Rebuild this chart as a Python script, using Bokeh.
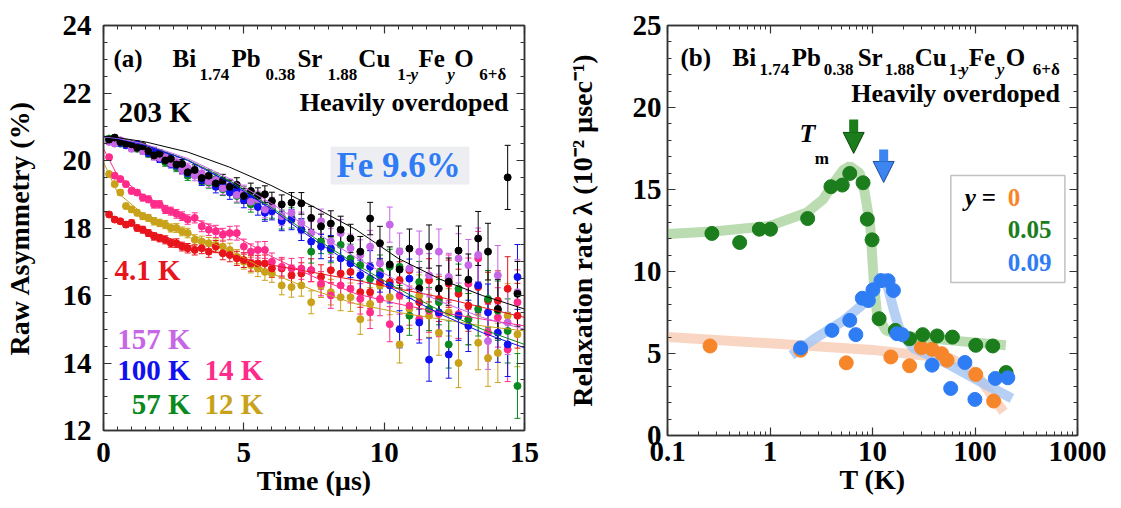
from bokeh.plotting import figure
from bokeh.models import (Range1d, LinearAxis, LogAxis, SingleIntervalTicker, FixedTicker,
                          Whisker, TeeHead, ColumnDataSource, Label, BoxAnnotation, Arrow,
                          NormalHead, CustomJSTickFormatter)
from bokeh.layouts import row
from bokeh.embed import file_html
from bokeh.resources import INLINE

FONT = "Liberation Serif"

# ---------------- Panel (a): raw asymmetry vs time ----------------
time_us = [0.2, 0.4, 0.6, 0.8, 1.0, 1.2, 1.4, 1.6, 1.8, 2.0, 2.2, 2.4, 2.6, 2.8, 3.0,
           3.25, 3.5, 3.75, 4.0, 4.25, 4.5, 4.75, 5.0, 5.25, 5.5, 5.75, 6.0,
           6.35, 6.7, 7.05, 7.4, 7.75, 8.1, 8.45, 8.8, 9.15, 9.5, 9.85, 10.2, 10.55,
           10.9, 11.25, 11.6, 11.95, 12.3, 12.65, 13.0, 13.35, 13.7, 14.05, 14.4, 14.75]
err_half = [0.07, 0.07, 0.08, 0.08, 0.09, 0.09, 0.10, 0.10, 0.11, 0.11,
            0.12, 0.12, 0.13, 0.13, 0.14, 0.15, 0.16, 0.17, 0.18, 0.19,
            0.20, 0.21, 0.22, 0.23, 0.24, 0.25, 0.26, 0.28, 0.30, 0.32,
            0.34, 0.36, 0.38, 0.40, 0.42, 0.45, 0.48, 0.50, 0.52, 0.55,
            0.58, 0.61, 0.64, 0.67, 0.70, 0.73, 0.76, 0.80, 0.84, 0.88, 0.95, 0.96]
asym_203K = [20.62, 20.68, 20.55, 20.50, 20.48, 20.38, 20.42, 20.28, 20.15, 20.20,
             20.00, 20.05, 19.88, 19.90, 19.65, 19.72, 19.48, 19.55, 19.32, 19.40,
             19.22, 19.28, 18.95, 19.10, 18.95, 19.00, 18.80, 18.70, 18.75, 18.73,
             18.30, 18.05, 18.13, 17.95, 17.69, 17.30, 18.28, 17.55, 16.92, 16.77,
             17.39, 16.21, 17.45, 16.21, 16.41, 17.33, 16.47, 17.69, 17.30, 15.60,
             19.50, 16.05]
asym_157K = [20.55, 20.50, 20.60, 20.50, 20.35, 20.42, 20.28, 20.30, 20.12, 20.08,
             20.10, 19.92, 19.95, 19.72, 19.78, 19.55, 19.62, 19.38, 19.42, 19.18,
             19.25, 18.98, 19.05, 18.78, 18.85, 18.55, 18.65, 18.35, 18.45, 18.15,
             17.85, 18.20, 17.60, 17.85, 17.40, 17.20, 17.45, 16.95, 18.10, 17.30,
             16.80, 17.30, 16.60, 17.30, 16.55, 17.10, 16.90, 17.20, 14.65, 16.60,
             15.20, 16.10]
asym_100K = [20.60, 20.65, 20.52, 20.45, 20.40, 20.48, 20.32, 20.22, 20.28, 20.05,
             20.12, 19.90, 19.85, 19.75, 19.62, 19.65, 19.42, 19.45, 19.22, 19.30,
             19.05, 19.12, 18.82, 18.90, 18.62, 18.45, 18.50, 18.20, 18.25, 17.95,
             17.60, 17.45, 17.40, 17.10, 16.95, 16.60, 16.85, 16.60, 16.30, 15.00,
             16.50, 15.20, 14.10, 15.50, 14.25, 15.40, 15.10, 16.30, 15.50, 14.90,
             14.55, 16.55]
asym_57K = [20.65, 20.58, 20.50, 20.52, 20.38, 20.35, 20.40, 20.20, 20.15, 20.20,
            19.95, 20.00, 19.80, 19.85, 19.55, 19.65, 19.45, 19.35, 19.45, 19.15,
            19.20, 18.95, 19.00, 18.70, 18.80, 18.50, 18.55, 18.25, 18.30, 17.95,
            17.30, 17.60, 17.35, 17.50, 17.10, 16.90, 16.50, 16.70, 16.85, 16.85,
            15.40, 16.40, 15.60, 15.80, 14.55, 16.20, 15.30, 15.60, 15.90, 15.55,
            14.95, 13.32]
asym_14K = [20.10, 19.55, 19.45, 19.30, 19.10, 19.05, 18.90, 18.85, 18.70, 18.70,
            18.55, 18.50, 18.42, 18.35, 18.25, 18.30, 18.05, 17.95, 17.90, 17.80,
            17.85, 17.85, 17.45, 17.30, 17.35, 17.35, 17.00, 16.85, 16.80, 16.80,
            16.75, 16.35, 16.00, 16.30, 16.20, 15.90, 15.50, 15.90, 15.15, 16.00,
            15.70, 15.30, 15.55, 15.45, 16.50, 15.45, 16.35, 17.10, 14.90, 15.35,
            14.40, 15.80]
asym_12K = [19.60, 19.30, 19.05, 18.65, 18.55, 18.45, 18.35, 18.30, 18.20, 18.15,
            18.10, 18.00, 18.00, 17.90, 17.85, 17.65, 17.60, 17.55, 17.50, 17.45,
            17.35, 17.15, 17.00, 16.90, 16.80, 16.70, 16.65, 16.30, 16.25, 16.30,
            15.80, 16.30, 16.10, 15.95, 15.95, 15.30, 15.75, 16.30, 15.95, 14.55,
            15.60, 16.00, 15.40, 14.90, 15.50, 14.00, 15.30, 14.60, 14.15, 14.30,
            15.40, 14.85]
asym_4K = [18.40, 18.25, 18.20, 18.10, 18.15, 18.00, 17.95, 17.85, 17.75, 17.70,
           17.65, 17.55, 17.55, 17.45, 17.40, 17.35, 17.40, 17.30, 17.45, 17.25,
           17.20, 17.10, 17.05, 16.95, 16.95, 16.95, 16.80, 16.80, 16.60, 16.65,
           16.75, 16.55, 16.75, 16.65, 16.70, 16.10, 16.10, 16.40, 16.40, 16.45,
           16.75, 15.80, 16.45, 15.90, 16.35, 16.05, 15.70, 16.25, 15.85, 15.85,
           16.20, 15.40]

fit_t = [0, 0.5, 1.5, 3, 4.5, 6, 7.5, 9, 10.5, 12, 13.5, 15]
fit_203K = [20.72, 20.68, 20.55, 20.25, 19.80, 19.25, 18.62, 17.95, 17.10, 16.48, 16.00, 15.60]
fit_157K = [20.70, 20.66, 20.48, 20.06, 19.46, 18.72, 17.90, 17.12, 16.42, 15.82, 15.35, 15.00]
fit_100K = [20.70, 20.65, 20.45, 20.00, 19.35, 18.55, 17.65, 16.85, 16.10, 15.45, 14.90, 14.45]
fit_57K = [20.70, 20.66, 20.46, 20.02, 19.40, 18.60, 17.72, 16.92, 16.20, 15.55, 15.00, 14.55]
fit_14K = [20.35, 19.55, 18.92, 18.35, 17.85, 17.15, 16.55, 16.05, 15.75, 15.50, 15.30, 15.10]
fit_12K = [19.95, 19.05, 18.35, 17.85, 17.35, 16.65, 16.15, 15.75, 15.50, 15.30, 15.10, 14.95]
fit_4K = [18.50, 18.25, 17.95, 17.50, 17.18, 16.90, 16.68, 16.45, 16.20, 15.95, 15.65, 15.35]

series_a = [
    ("12 K", asym_12K, fit_12K, "#C9A21A"),
    ("4.1 K", asym_4K, fit_4K, "#E8141C"),
    ("14 K", asym_14K, fit_14K, "#FF2B8A"),
    ("57 K", asym_57K, fit_57K, "#0A8A1E"),
    ("100 K", asym_100K, fit_100K, "#1010F0"),
    ("157 K", asym_157K, fit_157K, "#C766E6"),
    ("203 K", asym_203K, fit_203K, "#000000"),
]

# ---------------- Panel (b): relaxation rate vs T ----------------
T_y0 = [0.26, 1.99, 5.55, 15.1, 23.0, 30.0, 38.1, 47.3, 53.4, 101.6, 152]
lam_y0 = [5.46, 5.20, 4.43, 4.79, 4.25, 5.36, 5.26, 4.99, 4.59, 3.72, 2.10]
T_y005 = [0.271, 0.506, 0.787, 1.01, 2.33, 3.93, 5.07, 6.0, 8.09, 8.9, 9.9, 11.6,
          16.7, 23.0, 30.9, 42.7, 60.2, 101.7, 149, 201]
lam_y005 = [12.32, 11.77, 12.58, 12.58, 13.23, 15.17, 15.27, 15.98, 15.41, 13.19, 11.93,
            7.12, 6.41, 5.90, 6.15, 6.07, 6.00, 5.50, 5.46, 3.84]
T_y009 = [1.99, 4.02, 6.0, 6.88, 7.95, 9.12, 10.1, 12.1, 14.2, 16.0, 17.3, 19.5,
          38.1, 57.9, 79.7, 99.8, 158, 209]
lam_y009 = [5.34, 6.41, 7.02, 6.15, 8.37, 8.23, 8.88, 9.44, 9.44, 8.84, 6.21, 6.15,
            4.29, 2.87, 4.45, 2.20, 3.48, 3.52]

fitT_y0 = [0.1, 1, 10, 58, 80, 110, 190]
fitL_y0 = [6.0, 5.62, 5.22, 4.7, 4.25, 3.5, 1.45]
fitT_y005 = [0.1, 0.3, 1.0, 2.3, 3.3, 4.4, 5.2, 6.0, 7.5, 8.4, 9.5, 10.3, 11.1, 13.6, 18.9, 25.6, 57.9, 200]
fitL_y005 = [12.28, 12.45, 12.78, 13.6, 14.4, 15.6, 16.2, 16.42, 16.0, 14.8, 12.8, 9.36, 7.3, 6.4, 6.1, 6.0, 5.8, 5.5]
fitT_y009 = [1.62, 2.72, 5.2, 7.8, 9.9, 12.3, 14.2, 16.0, 18.9, 25.6, 57.9, 130, 229]
fitL_y009 = [4.89, 5.9, 7.0, 7.93, 8.84, 9.75, 9.0, 7.72, 6.2, 5.3, 4.28, 3.07, 2.26]

ORANGE, GREEN, BLUE = "#F7862A", "#1B7D1B", "#2F7DF5"


def tick_style(ax):
    ax.major_tick_in = 8
    ax.major_tick_out = 0
    ax.minor_tick_in = 4
    ax.minor_tick_out = 0
    ax.axis_line_color = "#333333"
    ax.axis_line_width = 1.5
    ax.major_tick_line_color = "#333333"
    ax.minor_tick_line_color = "#333333"
    ax.major_tick_line_width = 1.2
    ax.minor_tick_line_width = 1


def main_style(ax, tick_standoff, label_standoff=0):
    ax.major_label_text_font = FONT
    ax.major_label_text_font_style = "bold"
    ax.major_label_text_font_size = "29px"
    ax.major_label_text_color = "black"
    ax.major_label_standoff = tick_standoff
    ax.axis_label_text_font = FONT
    ax.axis_label_text_font_style = "bold"
    ax.axis_label_text_font_size = "28px"
    ax.axis_label_text_color = "black"
    ax.axis_label_standoff = label_standoff
    tick_style(ax)


def mirror(p, axis_cls, ticker, loc):
    ax = axis_cls(ticker=ticker, formatter=CustomJSTickFormatter(code="return ''"),
                  major_label_text_font_size="1px", major_label_standoff=0)
    tick_style(ax)
    p.add_layout(ax, loc)


def lab(p, x, y, text, size, color="black", style="bold", align="left"):
    p.add_layout(Label(x=x, y=y, text=text, text_font=FONT, text_font_size=f"{size}px",
                       text_font_style=style, text_color=color, text_align=align,
                       text_baseline="middle"))


# ================= Figure (a) =================
p1 = figure(output_backend="svg", toolbar_location=None,
            frame_width=421, frame_height=405,
            x_range=Range1d(0, 15), y_range=Range1d(12, 24),
            min_border_left=98, min_border_right=38, min_border_top=24, min_border_bottom=77)
p1.grid.visible = False
p1.outline_line_color = "#333333"
p1.outline_line_width = 1.5

p1.xaxis[0].ticker = SingleIntervalTicker(interval=5, num_minor_ticks=10)
p1.yaxis[0].ticker = SingleIntervalTicker(interval=2, num_minor_ticks=4)
main_style(p1.xaxis[0], 12, 0)
main_style(p1.yaxis[0], 12, 25)
p1.xaxis[0].axis_label = "Time (µs)"
p1.yaxis[0].axis_label = "Raw Asymmetry (%)"
mirror(p1, LinearAxis, SingleIntervalTicker(interval=2, num_minor_ticks=4), "right")
mirror(p1, LinearAxis, SingleIntervalTicker(interval=5, num_minor_ticks=10), "above")

p1.add_layout(BoxAnnotation(left=8.09, right=13.04, bottom=19.29, top=20.41,
                            fill_color="#EDEEF2", fill_alpha=1, line_alpha=0, level="underlay"))

for name, vals, fit, col in series_a:
    lo = [v - e for v, e in zip(vals, err_half)]
    hi = [v + e for v, e in zip(vals, err_half)]
    src = ColumnDataSource(dict(t=time_us, y=vals, lo=lo, hi=hi))
    p1.add_layout(Whisker(source=src, base="t", lower="lo", upper="hi", dimension="height",
                          line_color=col, line_width=1,
                          upper_head=TeeHead(size=6, line_color=col, line_width=1),
                          lower_head=TeeHead(size=6, line_color=col, line_width=1)))
    p1.scatter("t", "y", source=src, size=7, fill_color=col, line_color=col)

for name, vals, fit, col in series_a:
    p1.line(fit_t, fit, line_color=col, line_width=1)

# texts panel (a)  (y = vertical middle of the text)
lab(p1, 0.356, 23.01, "(a)", 25)
for x, txt in ((2.458, "Bi"), (4.56, "Pb"), (6.91, "Sr"), (9.08, "Cu"), (11.22, "Fe"), (12.5, "O")):
    lab(p1, x, 23.01, txt, 25)
for x, txt in ((3.42, "1.74"), (5.77, "0.38"), (7.98, "1.88"), (10.47, "1-"), (13.39, "6+δ")):
    lab(p1, x, 22.56, txt, 17)
for x in (10.94, 12.25):
    lab(p1, x, 22.56, "y", 17, style="bold italic")
lab(p1, 14.43, 21.71, "Heavily overdoped", 26, align="right")
lab(p1, 0.534, 21.44, "203 K", 29)
lab(p1, 0.39, 16.76, "4.1 K", 29, color="#E8141C")
lab(p1, 3.1, 14.72, "157 K", 29, color="#C766E6", align="right")
lab(p1, 3.1, 13.79, "100 K", 29, color="#1010F0", align="right")
lab(p1, 3.1, 12.80, "57 K", 29, color="#0A8A1E", align="right")
lab(p1, 3.6, 13.79, "14 K", 29, color="#FF2B8A")
lab(p1, 3.6, 12.80, "12 K", 29, color="#C9A21A")
lab(p1, 8.3, 19.84, "Fe 9.6%", 35, color="#2F7BF5")

# ================= Figure (b) =================
p2 = figure(output_backend="svg", toolbar_location=None, x_axis_type="log",
            frame_width=410, frame_height=410,
            x_range=Range1d(0.1, 1000), y_range=Range1d(0, 25),
            min_border_left=105, min_border_right=33, min_border_top=25, min_border_bottom=71)
p2.grid.visible = False
p2.outline_line_color = "#333333"
p2.outline_line_width = 1.5

minor_log = [m * 10.0 ** e for e in range(-1, 3) for m in range(2, 10)]
p2.xaxis[0].ticker = FixedTicker(ticks=[0.1, 1, 10, 100, 1000], minor_ticks=minor_log)
p2.xaxis[0].formatter = CustomJSTickFormatter(code="return tick >= 1 ? tick.toFixed(0) : tick.toString();")
p2.yaxis[0].ticker = SingleIntervalTicker(interval=5, num_minor_ticks=5)
main_style(p2.xaxis[0], 6, 0)
main_style(p2.yaxis[0], 6, 32)
p2.xaxis[0].axis_label = "T (K)"
p2.yaxis[0].axis_label = "Relaxation rate λ (10⁻² µsec⁻¹)"
mirror(p2, LinearAxis, SingleIntervalTicker(interval=5, num_minor_ticks=5), "right")
mirror(p2, LogAxis, FixedTicker(ticks=[0.1, 1, 10, 100, 1000], minor_ticks=minor_log), "above")

p2.line(fitT_y0, fitL_y0, line_color="#F8D2BC", line_width=10, line_alpha=0.9)
p2.line(fitT_y005, fitL_y005, line_color="#AFD6A3", line_width=10, line_alpha=0.85)
p2.line(fitT_y009, fitL_y009, line_color="#A9C7F3", line_width=10, line_alpha=0.85)

p2.scatter(T_y0, lam_y0, size=14, fill_color=ORANGE, line_color=ORANGE)
p2.scatter(T_y005, lam_y005, size=14, fill_color=GREEN, line_color=GREEN)
p2.scatter(T_y009, lam_y009, size=14, fill_color=BLUE, line_color=BLUE)

# arrows
p2.add_layout(Arrow(end=NormalHead(size=21, fill_color=GREEN, line_color="#0B4A0B", line_width=1),
                    x_start=6.55, y_start=19.27, x_end=6.55, y_end=17.2,
                    line_color=GREEN, line_width=9))
p2.add_layout(Arrow(end=NormalHead(size=21, fill_color="#3D86F2", line_color="#1A4C9A", line_width=1),
                    x_start=12.85, y_start=17.44, x_end=12.85, y_end=15.43,
                    line_color="#3D86F2", line_width=9))

# legend box
p2.add_layout(BoxAnnotation(left=58.1, right=753, top=15.85, bottom=9.33,
                            fill_alpha=0, line_color="#333333", line_width=1.5))
lab(p2, 79.4, 14.53, "y", 25, style="bold italic")
lab(p2, 116.4, 14.53, "=", 25)
lab(p2, 209, 14.53, "0", 25, color=ORANGE)
lab(p2, 209, 12.58, "0.05", 25, color=GREEN)
lab(p2, 209, 10.56, "0.09", 25, color=BLUE)

# texts panel (b)
lab(p2, 0.134, 23.06, "(b)", 25)
for x, txt in ((0.431, "Bi"), (1.626, "Pb"), (7.16, "Sr"), (25.8, "Cu"), (86.9, "Fe"), (200, "O")):
    lab(p2, x, 23.06, txt, 25)
for x, txt in ((0.791, "1.74"), (3.337, "0.38"), (13.15, "1.88"), (55.5, "1-"), (366, "6+δ")):
    lab(p2, x, 22.29, txt, 17)
for x in (72.6, 163):
    lab(p2, x, 22.29, "y", 17, style="bold italic")
lab(p2, 673, 20.83, "Heavily overdoped", 26, align="right")
lab(p2, 1.945, 18.39, "T", 26, style="bold italic")
lab(p2, 2.73, 16.87, "m", 17)

layout = row(p1, p2)
open("out.html", "w").write(file_html(layout, INLINE))
